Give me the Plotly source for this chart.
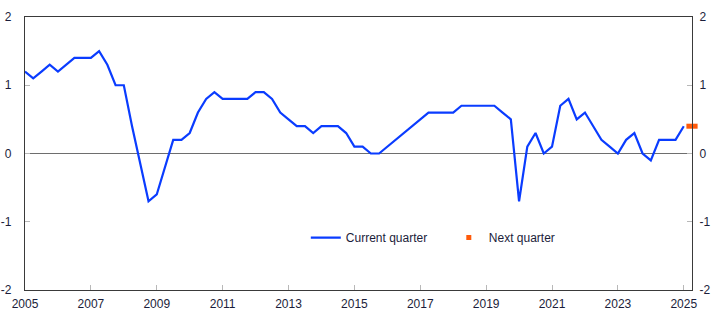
import plotly.graph_objects as go

# Quarterly figures, 2005 Q1 - 2025 Q1
years = list(range(2005, 2026))
current_quarter = [
    1.2, 1.1, 1.2, 1.3,    # 2005
    1.2, 1.3, 1.4, 1.4,    # 2006
    1.4, 1.5, 1.3, 1.0,    # 2007
    1.0, 0.4, -0.15, -0.7, # 2008
    -0.6, -0.2, 0.2, 0.2,  # 2009
    0.3, 0.6, 0.8, 0.9,    # 2010
    0.8, 0.8, 0.8, 0.8,    # 2011
    0.9, 0.9, 0.8, 0.6,    # 2012
    0.5, 0.4, 0.4, 0.3,    # 2013
    0.4, 0.4, 0.4, 0.3,    # 2014
    0.1, 0.1, 0.0, 0.0,    # 2015
    0.1, 0.2, 0.3, 0.4,    # 2016
    0.5, 0.6, 0.6, 0.6,    # 2017
    0.6, 0.7, 0.7, 0.7,    # 2018
    0.7, 0.7, 0.6, 0.5,    # 2019
    -0.7, 0.1, 0.3, 0.0,   # 2020
    0.1, 0.7, 0.8, 0.5,    # 2021
    0.6, 0.4, 0.2, 0.1,    # 2022
    0.0, 0.2, 0.3, 0.0,    # 2023
    -0.1, 0.2, 0.2, 0.2,   # 2024
    0.4,                   # 2025
]
next_quarter_x = [2025.25]
next_quarter = [0.4]

quarters = [2005 + i / 4 for i in range(len(current_quarter))]
year_ticks = years[::2]
y_ticks = [-2, -1, 0, 1, 2]
y_tick_labels = ["-2", "-1", "0", "1", "2"]

text_color = "#1b1d3a"
axis_color = "#3a3a3a"
orange = "#ff5a0a"
font = dict(family="Liberation Sans, Arial, sans-serif", size=12, color=text_color)

fig = go.Figure()
fig.add_trace(go.Scatter(
    x=quarters, y=current_quarter, mode="lines", name="Current quarter",
    line=dict(color="#0a3cff", width=2.2),
))
fig.add_trace(go.Scatter(
    x=next_quarter_x, y=next_quarter, mode="markers", name="Next quarter",
    marker=dict(symbol="line-ew", size=8, color=orange,
                line=dict(width=5, color=orange)),
    cliponaxis=False, showlegend=False,
))
# legend key for the next-quarter marker: a small square
fig.add_trace(go.Scatter(
    x=[None], y=[None], mode="markers", name="Next quarter",
    marker=dict(symbol="square", size=5, color=orange),
))
# invisible trace so the right-hand axis is drawn
fig.add_trace(go.Scatter(x=[2005], y=[0], yaxis="y2", mode="markers",
                         marker=dict(opacity=0), showlegend=False,
                         hoverinfo="skip"))

fig.add_shape(type="line", xref="paper", x0=0, x1=1, yref="y", y0=0, y1=0,
              line=dict(color="#6e6e6e", width=1.2), layer="below")

axis_common = dict(showgrid=False, zeroline=False, showline=True,
                   linecolor=axis_color, linewidth=1.2,
                   ticks="inside", ticklen=5, tickcolor="#b8b8b8",
                   tickfont=font, automargin=False)

fig.update_layout(
    width=722, height=330,
    margin=dict(l=25, r=30, t=17, b=40),
    paper_bgcolor="white", plot_bgcolor="white",
    font=font,
    showlegend=True,
    legend=dict(orientation="h", x=0.421, y=0.245, xanchor="left",
                yanchor="top", bgcolor="rgba(0,0,0,0)",
                entrywidth=98, entrywidthmode="pixels",
                font=font, itemwidth=30),
    xaxis=dict(range=[2005, 2025.25], tickvals=year_ticks,
               ticktext=[str(y) for y in year_ticks], mirror=True,
               ticklabelstandoff=2, **axis_common),
    yaxis=dict(range=[-2, 2], tickvals=y_ticks, ticktext=y_tick_labels,
               ticklabelstandoff=10, **axis_common),
    yaxis2=dict(range=[-2, 2], tickvals=y_ticks, ticktext=y_tick_labels,
                overlaying="y", side="right", ticklabelstandoff=4,
                **axis_common),
)

fig.write_html("out.html")
